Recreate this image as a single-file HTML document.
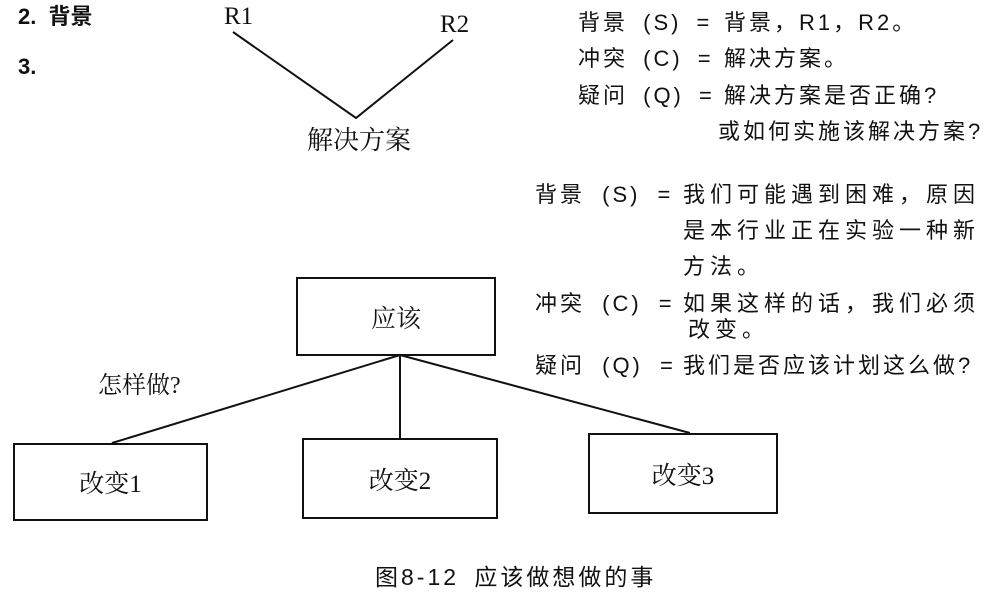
<!DOCTYPE html>
<html><head><meta charset="utf-8"><style>
body{margin:0;width:1000px;height:601px;background:#fff;position:relative;overflow:hidden;font-family:"Liberation Serif","Noto Serif CJK SC","Noto Sans CJK SC",serif;color:#111}
.t{position:absolute;white-space:pre;font-size:23px;line-height:1}
.s{font-family:"Liberation Sans","Noto Sans CJK SC",sans-serif}
.r{font-family:"Liberation Sans","Noto Sans CJK SC",sans-serif;font-size:22px;letter-spacing:3px}
.b{position:absolute;border:2px solid #111;box-sizing:border-box;display:flex;align-items:center;justify-content:center;font-size:25px}
</style></head><body>
<svg width="1000" height="601" style="position:absolute;left:0;top:0">
<g stroke="#111" stroke-width="2" fill="none">
<polyline points="233,32 356,118 453,40"/>
<line x1="400" y1="355" x2="112" y2="443"/>
<line x1="400" y1="355" x2="400" y2="438"/>
<line x1="400" y1="355" x2="690" y2="433"/>
</g></svg>
<div class="t s" style="left:18px;top:6px;font-weight:bold;font-size:22px;word-spacing:6px">2. 背景</div>
<div class="t s" style="left:18px;top:56px;font-weight:bold;font-size:22px">3.</div>
<div class="t" style="left:224px;top:4px;font-size:25px">R1</div>
<div class="t" style="left:440px;top:12px;font-size:25px">R2</div>
<div class="t" style="left:307px;top:128px;font-size:26px">解决方案</div>

<div class="t r" style="left:578px;top:12px;word-spacing:6px">背景 (S) =</div><div class="t r" style="left:724px;top:12px">背景，R1，R2。</div>
<div class="t r" style="left:578px;top:48px;word-spacing:6px">冲突 (C) =</div><div class="t r" style="left:724px;top:48px">解决方案。</div>
<div class="t r" style="left:578px;top:85px;word-spacing:6px">疑问 (Q) =</div><div class="t r" style="left:724px;top:85px">解决方案是否正确?</div>
<div class="t r" style="left:718px;top:121px">或如何实施该解决方案?</div>

<div class="t r" style="left:535px;top:184px;word-spacing:8px">背景 (S) =</div><div class="t r" style="left:683px;top:184px;letter-spacing:5px">我们可能遇到困难，原因</div>
<div class="t r" style="left:683px;top:220px;letter-spacing:5px">是本行业正在实验一种新</div>
<div class="t r" style="left:683px;top:256px;letter-spacing:5px">方法。</div>
<div class="t r" style="left:535px;top:293px;word-spacing:8px">冲突 (C) =</div><div class="t r" style="left:683px;top:293px;letter-spacing:5px">如果这样的话，我们必须</div>
<div class="t r" style="left:688px;top:319px;letter-spacing:5px">改变。</div>
<div class="t r" style="left:535px;top:355px;word-spacing:8px">疑问 (Q) =</div><div class="t r" style="left:683px;top:355px;letter-spacing:3px">我们是否应该计划这么做?</div>

<div class="t" style="left:98px;top:374px;font-size:24px">怎样做?</div>
<div class="b" style="left:296px;top:277px;width:200px;height:79px">应该</div>
<div class="b" style="left:13px;top:443px;width:195px;height:78px">改变1</div>
<div class="b" style="left:302px;top:438px;width:196px;height:81px">改变2</div>
<div class="b" style="left:588px;top:433px;width:190px;height:81px">改变3</div>
<div class="t s" style="left:375px;top:566px;font-size:23px;letter-spacing:3px;word-spacing:6px">图8-12 应该做想做的事</div>
</body></html>
